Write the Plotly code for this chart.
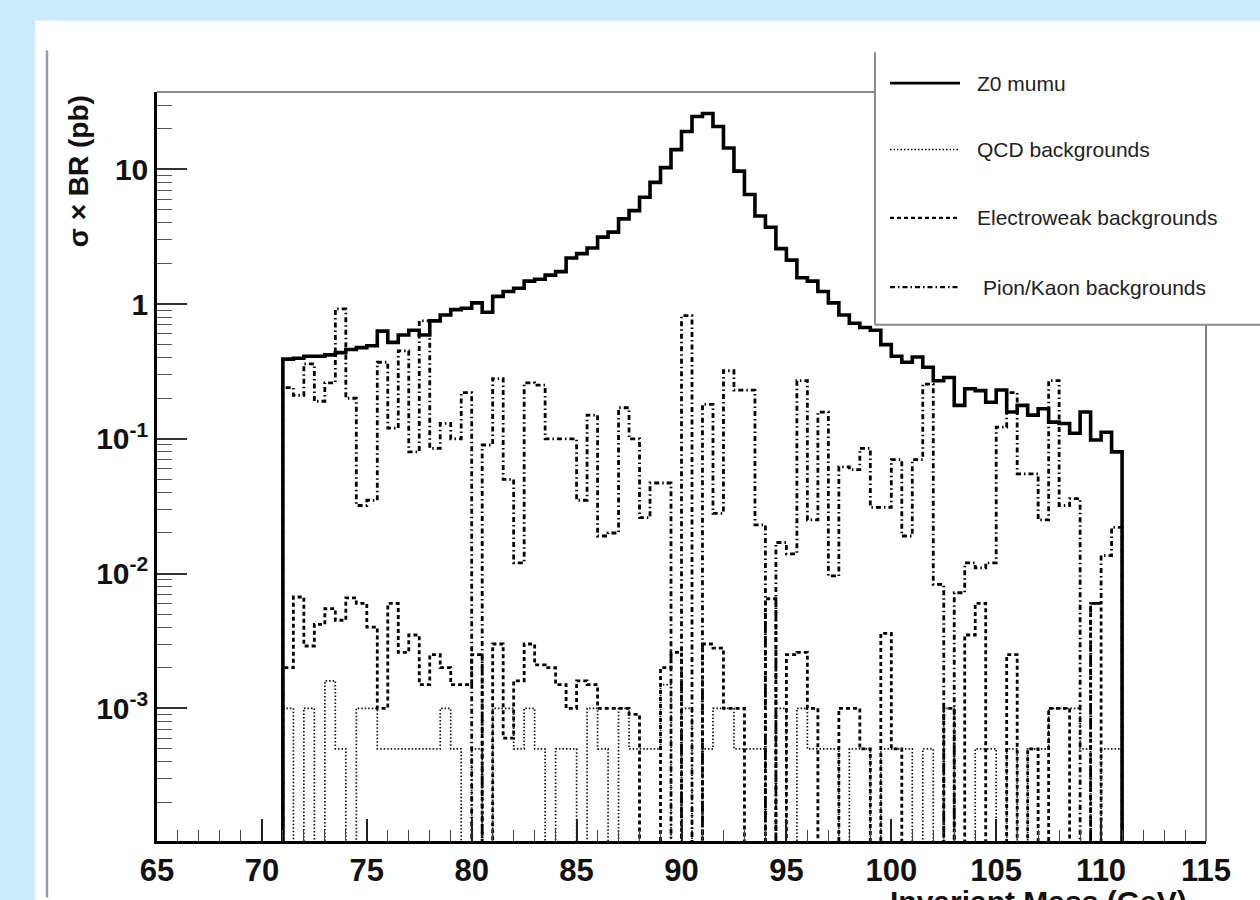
import numpy as np
import plotly.graph_objects as go

# ---------------- data (0.5 GeV bins from 71 to 111 GeV) ----------------
bin_lo = 71.0
bin_w = 0.5
n_bins = 80

z0_mumu = [0.39, 0.396, 0.41, 0.41, 0.42, 0.436, 0.46, 0.475, 0.49, 0.63,
           0.52, 0.59, 0.64, 0.59, 0.75, 0.83, 0.91, 0.93, 1.02, 0.87,
           1.14, 1.24, 1.31, 1.48, 1.53, 1.64, 1.74, 2.2, 2.37, 2.61,
           3.14, 3.42, 4.29, 4.94, 6.2, 8.0, 10.3, 14.0, 19.1, 24.7,
           26.0, 20.8, 14.4, 9.7, 6.5, 4.5, 3.72, 2.58, 2.12, 1.57,
           1.48, 1.24, 1.02, 0.83, 0.72, 0.67, 0.64, 0.50, 0.41, 0.37,
           0.405, 0.34, 0.27, 0.285, 0.177, 0.235, 0.228, 0.187, 0.23, 0.158,
           0.177, 0.15, 0.167, 0.133, 0.13, 0.11, 0.158, 0.098, 0.112, 0.08]

qcd_bkg = [1e-3, 0, 1e-3, 0, 1.6e-3, 5e-4, 0, 1e-3, 1e-3, 5e-4,
           5e-4, 5e-4, 5e-4, 5e-4, 5e-4, 1e-3, 5e-4, 0, 5e-4, 0,
           1e-3, 1e-3, 5e-4, 1e-3, 5e-4, 0, 5e-4, 5e-4, 0, 1e-3,
           5e-4, 0, 1e-3, 5e-4, 5e-4, 5e-4, 1.5e-3, 0, 1e-3, 0,
           5e-4, 1e-3, 1e-3, 5e-4, 5e-4, 5e-4, 0, 1e-3, 0, 1e-3,
           5e-4, 5e-4, 5e-4, 0, 5e-4, 5e-4, 0, 5e-4, 5e-4, 5e-4,
           0, 5e-4, 0, 1e-3, 0, 0, 5e-4, 5e-4, 0, 5e-4,
           0, 5e-4, 5e-4, 1e-3, 1e-3, 1e-3, 5e-4, 0, 5e-4, 5e-4]

ew_bkg = [0.002, 0.0067, 0.0029, 0.0042, 0.0055, 0.0045, 0.0066, 0.006, 0.004, 0.001,
          0.006, 0.0026, 0.0035, 0.0015, 0.0025, 0.002, 0.0015, 0.0015, 0.0025, 0,
          0.003, 0.0006, 0.0016, 0.003, 0.0021, 0.002, 0.0015, 0.001, 0.0016, 0.0015,
          0.001, 0.001, 0.001, 0.0009, 0, 0, 0.002, 0.0026, 0, 0,
          0.003, 0.0028, 0.001, 0.001, 0, 0, 0.0065, 0, 0.0025, 0.0026,
          0.001, 0, 0, 0.001, 0.001, 0.0005, 0, 0.0036, 0.0005, 0,
          0, 0, 0, 0.001, 0, 0.0035, 0.006, 0, 0, 0.0025,
          0, 0.0005, 0, 0.001, 0.001, 0, 0, 0.006, 0, 0]

pik_bkg = [0.24, 0.21, 0.36, 0.19, 0.26, 0.92, 0.20, 0.032, 0.035, 0.37,
           0.12, 0.45, 0.08, 0.75, 0.085, 0.13, 0.10, 0.22, 0, 0.09,
           0.28, 0.05, 0.012, 0.26, 0.25, 0.10, 0.10, 0.10, 0.035, 0.15,
           0.019, 0.02, 0.17, 0.10, 0.026, 0.047, 0.047, 0, 0.82, 0,
           0.18, 0.028, 0.32, 0.23, 0.23, 0.023, 0, 0.017, 0.014, 0.27,
           0.025, 0.158, 0.0096, 0.062, 0.059, 0.085, 0.031, 0.031, 0.07, 0.019,
           0.07, 0.255, 0.0083, 0, 0.0072, 0.012, 0.011, 0.012, 0.122, 0.22,
           0.055, 0.055, 0.025, 0.27, 0.032, 0.036, 0, 0.006, 0.0136, 0.022]

x_ticks = [65, 70, 75, 80, 85, 90, 95, 100, 105, 110, 115]
y_ticks = [1e-3, 1e-2, 1e-1, 1, 10]
y_ticktext = ["10<sup>-3</sup>", "10<sup>-2</sup>", "10<sup>-1</sup>", "1", "10"]

legend_names = ["Z0 mumu", "QCD backgrounds", "Electroweak backgrounds", "Pion/Kaon backgrounds"]

# ---------------- helpers ----------------
edges = bin_lo + bin_w * np.arange(n_bins + 1)
FLOOR = 1e-7  # empty bins are drawn down to the bottom of the log axis


def step(vals):
    v = np.asarray(vals, dtype=float)
    v = np.where(v > 0, v, FLOOR)
    x = np.concatenate([[edges[0]], edges[:-1], [edges[-1], edges[-1]]])
    y = np.concatenate([[FLOOR], v, [v[-1], FLOOR]])
    return x, y


W, H = 1260, 900
L, R, T, B = 157, 54, 92, 52
PW, PH = W - L - R, H - T - B


def px(x):
    return (x - L) / PW


def py(y):
    return (H - B - y) / PH


fig = go.Figure()

styles = [
    (qcd_bkg, dict(color="#111", width=1.7, dash="1.5px,2px")),
    (ew_bkg, dict(color="black", width=2.8, dash="4px,3px")),
    (pik_bkg, dict(color="black", width=2.8, dash="5px,3px,1.5px,3px")),
]
for vals, ln in styles:
    x, y = step(vals)
    fig.add_trace(go.Scatter(x=x, y=y, mode="lines", line=dict(shape="hv", **ln),
                             showlegend=False, hoverinfo="skip"))

x, y = step(z0_mumu)
fig.add_trace(go.Scatter(x=x, y=y, mode="lines",
                         line=dict(shape="hv", color="black", width=3.6),
                         showlegend=False, hoverinfo="skip"))

minor_y = []
for d in range(-4, 2):
    for m in range(2, 10):
        val = m * 10.0 ** d
        if val < 38:
            minor_y.append(val)

x_tick_font = dict(family="Liberation Sans, Arial, sans-serif", size=31, color="#111", weight="bold")
y_tick_font = dict(family="Liberation Sans, Arial, sans-serif", size=30, color="#111", weight="bold")

fig.update_layout(
    width=W, height=H,
    margin=dict(l=L, r=R, t=T, b=B, pad=0),
    paper_bgcolor="#cdeafc",
    plot_bgcolor="white",
    showlegend=False,
    xaxis=dict(
        range=[65, 115], tickmode="array", tickvals=x_ticks,
        ticks="inside", ticklen=22, tickwidth=1.5, tickcolor="#222",
        showline=True, linecolor="black", linewidth=3,
        showgrid=False, zeroline=False, tickfont=x_tick_font,
        minor=dict(tickmode="array", tickvals=list(range(65, 116)), ticks="inside",
                   ticklen=11, tickwidth=1.3, tickcolor="#444", showgrid=False),
    ),
    yaxis=dict(
        type="log", range=[-3.985, 1.574], tickmode="array",
        tickvals=y_ticks, ticktext=y_ticktext,
        ticks="inside", ticklen=30, tickwidth=1.5, tickcolor="#333",
        showline=True, linecolor="black", linewidth=2.5,
        showgrid=False, zeroline=False, tickfont=y_tick_font,
        minor=dict(tickmode="array", tickvals=minor_y, ticks="inside",
                   ticklen=15, tickwidth=1.3, tickcolor="#555", showgrid=False),
    ),
)

shapes = [
    # white canvas panel
    dict(type="rect", xref="paper", yref="paper", x0=px(35), x1=px(1275), y0=py(915), y1=py(20),
         fillcolor="white", line=dict(width=0), layer="below"),
    dict(type="line", xref="paper", yref="paper", x0=px(47), x1=px(47), y0=py(905), y1=py(50),
         line=dict(color="#9a9a9a", width=2.5), layer="below"),
    # frame top and right
    dict(type="line", xref="paper", yref="paper", x0=0, x1=px(875), y0=1, y1=1,
         line=dict(color="#8a8a8a", width=2)),
    dict(type="line", xref="paper", yref="paper", x0=1, x1=1, y0=0, y1=py(327),
         line=dict(color="#555", width=1.5)),
    # legend box (white fill, left and bottom borders)
    dict(type="rect", xref="paper", yref="paper", x0=px(875), x1=px(1275), y0=py(327), y1=py(50),
         fillcolor="white", line=dict(width=0), layer="above"),
    dict(type="line", xref="paper", yref="paper", x0=px(875), x1=px(875), y0=py(327), y1=py(52),
         line=dict(color="#8a8a8a", width=2)),
    dict(type="line", xref="paper", yref="paper", x0=px(875), x1=px(1275), y0=py(327), y1=py(327),
         line=dict(color="#8a8a8a", width=2)),
]
legend_rows = [83, 150, 219, 289]
legend_dash = ["solid", "1.5px,2px", "4px,3px", "5px,3px,1.5px,3px"]
legend_width = [2.6, 1.6, 2.2, 2.2]
for yy, dsh, lw in zip(legend_rows, legend_dash, legend_width):
    shapes.append(dict(type="line", xref="paper", yref="paper", x0=px(890), x1=px(960),
                       y0=py(yy), y1=py(yy), line=dict(color="black", width=lw, dash=dsh)))
fig.update_layout(shapes=shapes)

ann = []
legend_x = [975, 975, 975, 981]
for name, yy, xx in zip(legend_names, legend_rows, legend_x):
    ann.append(dict(text=name, xref="paper", yref="paper", x=px(xx), y=py(yy),
                    xanchor="left", yanchor="middle", showarrow=False,
                    font=dict(family="Liberation Sans, Arial, sans-serif", size=21, color="#222")))
ann.append(dict(text="σ × BR (pb)", xref="paper", yref="paper", x=px(78), y=py(172),
                textangle=-90, xanchor="center", yanchor="middle", showarrow=False,
                font=dict(family="Liberation Sans, Arial, sans-serif", size=28, color="#111", weight="bold")))
ann.append(dict(text="Invariant Mass (GeV)", xref="paper", yref="paper", x=px(1038), y=py(890),
                xanchor="center", yanchor="top", showarrow=False,
                font=dict(family="Liberation Sans, Arial, sans-serif", size=30, color="#111", weight="bold")))
fig.update_layout(annotations=ann)

fig.write_html("out.html")
